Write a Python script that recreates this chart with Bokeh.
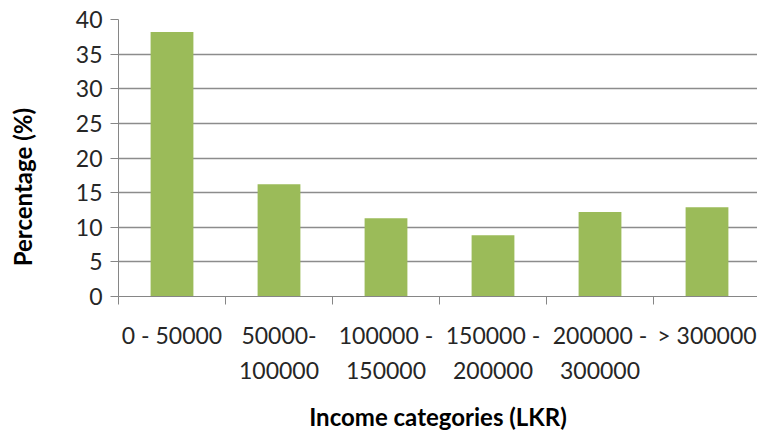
from bokeh.plotting import figure
from bokeh.models import Range1d, FixedTicker, ColumnDataSource
from bokeh.embed import file_html
from bokeh.resources import INLINE

categories = ["0 - 50000", "50000-\n100000", "100000 -\n150000", "150000 -\n200000", "200000 -\n300000", "> 300000"]
percentages = [38.2, 16.2, 11.3, 8.85, 12.2, 12.9]
y_ticks = [0, 5, 10, 15, 20, 25, 30, 35, 40]
x_title = "Income categories (LKR)"
y_title = "Percentage (%)"

FONT = "Lato"
positions = [i + 0.5 for i in range(len(categories))]
source = ColumnDataSource(dict(x=positions, top=percentages))

p = figure(width=757, height=434, output_backend="svg", toolbar_location=None,
           x_range=Range1d(0, (757 - 118) / 107.0), y_range=Range1d(0, 40),
           min_border_left=118, min_border_right=0, min_border_top=19, min_border_bottom=137)
p.outline_line_color = None
p.background_fill_color = "white"
p.border_fill_color = "white"

p.vbar(x="x", top="top", width=0.4, source=source, fill_color="#9BBB59", line_color=None)

# x axis
p.xaxis.ticker = FixedTicker(ticks=positions, minor_ticks=list(range(len(categories) + 1)))
p.xaxis.major_label_overrides = {pos: lab for pos, lab in zip(positions, categories)}
p.xaxis.major_tick_out = 0
p.xaxis.major_tick_in = 0
p.xaxis.minor_tick_out = 8
p.xaxis.minor_tick_in = 0
p.xaxis.minor_tick_line_color = "#868686"
p.xaxis.axis_line_color = "#868686"
p.xaxis.major_label_standoff = 16
p.xaxis.major_label_text_font = FONT
p.xaxis.major_label_text_font_size = "23px"
p.xaxis.major_label_text_color = "#262626"
p.xaxis.major_label_text_line_height = 1.27
p.xaxis.axis_label = x_title
p.xaxis.axis_label_text_font = FONT
p.xaxis.axis_label_text_font_size = "24px"
p.xaxis.axis_label_text_font_style = "bold"
p.xaxis.axis_label_text_color = "#000000"
p.xaxis.axis_label_standoff = 15

# y axis
p.yaxis.ticker = FixedTicker(ticks=y_ticks)
p.yaxis.major_tick_out = 8
p.yaxis.major_tick_in = 0
p.yaxis.minor_tick_out = 0
p.yaxis.minor_tick_in = 0
p.yaxis.major_tick_line_color = "#868686"
p.yaxis.axis_line_color = "#868686"
p.yaxis.major_label_standoff = 8
p.yaxis.major_label_text_font = FONT
p.yaxis.major_label_text_font_size = "23px"
p.yaxis.major_label_text_color = "#262626"
# trailing no-break spaces push the rotated title down to sit like the original
p.yaxis.axis_label = y_title + "\u00a0" * 10
p.yaxis.axis_label_text_font = FONT
p.yaxis.axis_label_text_font_size = "24px"
p.yaxis.axis_label_text_font_style = "bold"
p.yaxis.axis_label_text_color = "#000000"
p.yaxis.axis_label_standoff = 36

p.xgrid.grid_line_color = None
p.ygrid.ticker = FixedTicker(ticks=y_ticks)
p.ygrid.grid_line_color = "#8c8c8c"
p.ygrid.grid_line_width = 1.3

open("out.html", "w").write(file_html(p, INLINE))
